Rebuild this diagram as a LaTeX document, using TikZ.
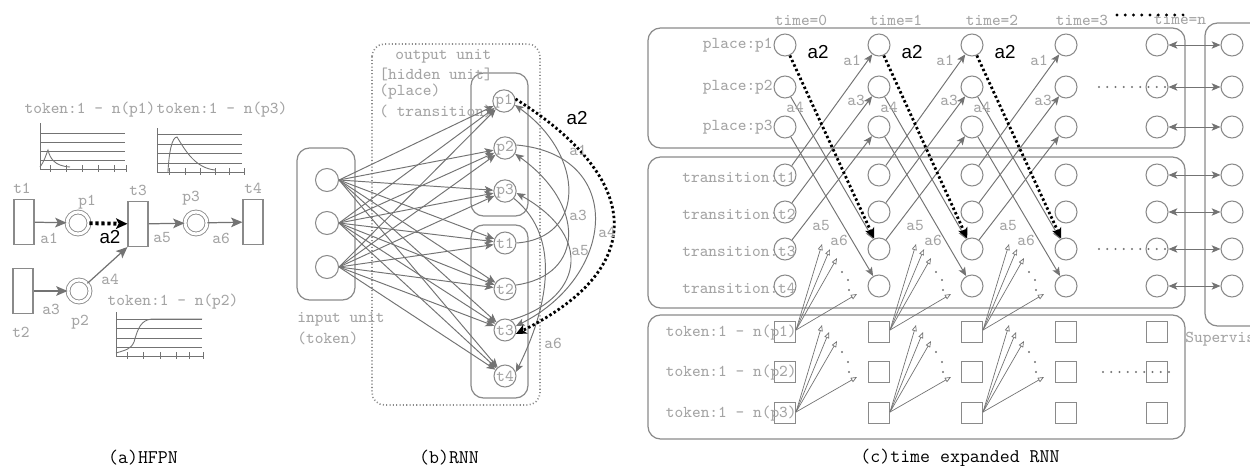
\documentclass[tikz,border=0pt]{standalone}
\usepackage{fontspec}
\setmainfont{Liberation Serif}
\newfontfamily\sansfont{Liberation Sans}
\usetikzlibrary{arrows.meta}

\definecolor{txtgrey}{HTML}{A4A4A4}
\definecolor{lngrey}{HTML}{737373}
\definecolor{bxgrey}{HTML}{8A8A8A}

\begin{document}
\begin{tikzpicture}[x=0.02cm,y=-0.02cm,
  lbl/.style={font=\ttfamily\fontsize{9.45}{10}\selectfont, text=txtgrey, inner sep=0pt},
  captxt/.style={font=\ttfamily\fontsize{11}{12}\selectfont, text=black, inner sep=0pt},
  blk/.style={font=\sansfont\fontsize{10.7}{12}\selectfont, text=black, inner sep=0pt},
  unit/.style={circle, draw=bxgrey, line width=0.6pt, minimum size=0.44cm, inner sep=0pt,
               font=\ttfamily\fontsize{9.45}{10}\selectfont, text=txtgrey},
  tok/.style={rectangle, draw=bxgrey, line width=0.6pt, minimum size=0.42cm, inner sep=0pt},
  trans/.style={rectangle, draw=bxgrey, line width=0.6pt, minimum width=0.4cm, minimum height=0.9cm, inner sep=0pt},
  place/.style={circle, draw=bxgrey, line width=0.5pt, double, double distance=1.7pt, minimum size=0.44cm, inner sep=0pt},
  grp/.style={draw=bxgrey, line width=0.7pt, rounded corners=0.25cm},
  arr/.style={draw=lngrey, line width=0.55pt, -{Stealth[length=5pt,width=4.2pt,inset=1.2pt]}},
  barr/.style={draw=lngrey, line width=0.55pt, {Stealth[length=5pt,width=4.2pt,inset=1.2pt]}-{Stealth[length=5pt,width=4.2pt,inset=1.2pt]}},
  bigarr/.style={draw=lngrey, line width=0.7pt, -{Stealth[length=6.5pt,width=5.5pt,inset=1.5pt]}},
  dotarr/.style={draw=black, line width=1.6pt, dash pattern=on 1.4pt off 1.4pt, -{Stealth[length=6pt,width=5.5pt,inset=1.5pt]}},
  bigdot/.style={draw=black, line width=2.2pt, dash pattern=on 1.8pt off 1.6pt, -{Stealth[length=6.5pt,width=6pt,inset=1.5pt]}},
  fan/.style={draw=lngrey, line width=0.4pt, -{Triangle[open,length=3.5pt,width=2.8pt]}},
  axis/.style={draw=lngrey, line width=0.5pt},
  rowdots/.style={draw=#1, line width=1.3pt, dash pattern=on 0pt off 4.7pt, line cap=round},
  rowdots/.default=lngrey
]
\useasboundingbox (0,0) rectangle (1250,466);
\clip (0,0) rectangle (1250,466);

% ================= (a) HFPN =================
% token curves
\node[lbl] at (90,110) {token:1 - n(p1)};
\node[lbl] at (222,110) {token:1 - n(p3)};
\node[lbl] at (173,302) {token:1 - n(p2)};

% p1 chart
\draw[axis] (40,123) -- (40,169) -- (127,169);
\foreach \y in {133,142,151,160} \draw[axis] (40,\y) -- (125,\y);
\foreach \x in {50,66,82,98,114,126} \draw[axis] (\x,165) -- (\x,172);
\draw[axis] (40,167) .. controls (44,162) and (46,155) .. (48,150)
  .. controls (50,158) and (54,166) .. (70,167);

% p3 chart
\draw[axis] (157,128) -- (157,172) -- (244,172);
\foreach \y in {134,144,153,163} \draw[axis] (157,\y) -- (242,\y);
\foreach \x in {169,185,200,215,229,244} \draw[axis] (\x,168) -- (\x,175);
\draw[axis] (168,172) .. controls (169,152) and (172,137) .. (177,137)
  .. controls (185,150) and (195,168) .. (215,170);

% p2 chart
\draw[axis] (116,312) -- (116,356) -- (203,356);
\foreach \y in {319,328,338,347} \draw[axis] (116,\y) -- (202,\y);
\foreach \x in {127,143,160,176,189,203} \draw[axis] (\x,352) -- (\x,359);
\draw[axis] (116,353) .. controls (126,350) and (131,349) .. (134,342)
  .. controls (138,328) and (141,320) .. (152,319) -- (202,319);

% net
\node[trans] (t1) at (24,222) {};
\node[trans] (t2) at (23,291) {};
\node[trans] (t3) at (138,224) {};
\node[trans] (t4) at (253,222) {};
\node[place] (p1) at (78,223) {};
\node[place] (p2) at (79,291) {};
\node[place] (p3) at (196,223) {};
\node[lbl] at (22,188) {t1};
\node[lbl] at (21,332) {t2};
\node[lbl] at (138,190) {t3};
\node[lbl] at (253,188) {t4};
\node[lbl] at (87,202) {p1};
\node[lbl] at (80,322) {p2};
\node[lbl] at (191,198) {p3};

\draw[bigarr] (t1) -- (p1);
\draw[bigarr] (t2) -- (p2);
\draw[bigarr] (t3) -- (p3);
\draw[bigarr] (p3) -- (t4);
\draw[bigarr] (p2) -- (t3.south west);
\draw[bigdot] (p1) -- (t3);
\node[lbl] at (49,238) {a1};
\node[blk] at (110,237) {a2};
\node[lbl] at (51,309) {a3};
\node[lbl] at (110,279) {a4};
\node[lbl] at (162,238) {a5};
\node[lbl] at (221,238) {a6};

\node[captxt] at (143,458) {(a)HFPN};

% ================= (b) RNN =================
\draw[grp] (297,148) rectangle (355,300);
\draw[draw=bxgrey, line width=0.9pt, dash pattern=on 0.6pt off 1.3pt, rounded corners=0.25cm] (372,44) rectangle (540,405);
\draw[grp] (471,73) rectangle (528,216);
\draw[grp] (471,225) rectangle (528,398);

\node[lbl, anchor=west] at (297,319) {input unit};
\node[lbl, anchor=west] at (297,338) {(token)};
\node[lbl, anchor=west] at (395,56) {output unit};
\node[lbl, anchor=west] at (379,74) {[hidden unit]};
\node[lbl, anchor=west] at (379,92) {(place)};
\node[lbl, anchor=west] at (379,111) {( transition)};

\node[unit, minimum size=0.46cm] (in1) at (327,180) {};
\node[unit, minimum size=0.46cm] (in2) at (327,223) {};
\node[unit, minimum size=0.46cm] (in3) at (327,267) {};

\node[unit] (bp1) at (504,101) {p1};
\node[unit] (bp2) at (505,148) {p2};
\node[unit] (bp3) at (505,191) {p3};
\node[unit] (bt1) at (505,243) {t1};
\node[unit] (bt2) at (505,289) {t2};
\node[unit] (bt3) at (505,330) {t3};
\node[unit] (bt4) at (505,376) {t4};

\foreach \s in {in1,in2,in3}
  \foreach \t in {bp1,bp2,bp3,bt1,bt2,bt3,bt4}
    \draw[arr] (\s.east) -- (\t);

% recurrent connections
\draw[arr] (bt1.east) .. controls +(70,-5) and +(70,50) .. (bp1.-20);
\draw[arr] (bt2.20) .. controls +(70,-10) and +(70,50) .. (bp2.-30);
\draw[arr] (bt3.60) .. controls +(70,-20) and +(80,45) .. (bp3.-10);
\draw[arr] (bp2.15) .. controls +(110,10) and +(100,-50) .. (bt3.20);
\draw[arr] (bp3.-40) .. controls +(50,40) and +(30,-60) .. (bt4.20);
\draw[dotarr] (bp1.10) .. controls +(120,75) and +(140,-70) .. (bt3.-20);

\node[lbl] at (578,150) {a1};
\node[blk] at (577,118) {a2};
\node[lbl] at (578,215) {a3};
\node[lbl] at (607,232) {a4};
\node[lbl] at (580,251) {a5};
\node[lbl] at (553,343) {a6};

\node[captxt] at (449,458) {(b)RNN};

% ================= (c) time expanded RNN =================
\draw[grp] (648,28) rectangle (1185,148);
\draw[grp] (648,157) rectangle (1185,308);
\draw[grp] (648,315) rectangle (1185,439);
\draw[grp] (1205,23) rectangle (1290,326);

\node[lbl] at (801,20) {time=0};
\node[lbl] at (896,20) {time=1};
\node[lbl] at (992,20) {time=2};
\node[lbl] at (1082,20) {time=3};
\node[lbl] at (1180,20) {time=n};
\draw[rowdots=black, line width=1.8pt] (1117,15) -- (1184,15);

\node[lbl, anchor=east] at (773,45) {place:p1};
\node[lbl, anchor=east] at (773,87) {place:p2};
\node[lbl, anchor=east] at (773,127) {place:p3};

% unit columns
\foreach \k/\x in {0/785,1/879,2/972,3/1066,4/1157} {
  \node[unit] (c\k p1) at (\x,45) {};
  \node[unit] (c\k p2) at (\x,87) {};
  \node[unit] (c\k p3) at (\x,127) {};
  \node[unit] (c\k t1) at (\x,175) {};
  \node[unit] (c\k t2) at (\x,212) {};
  \node[unit] (c\k t3) at (\x,249) {};
  \node[unit] (c\k t4) at (\x,286) {};
  \node[tok] (c\k k1) at (\x,332) {};
  \node[tok] (c\k k2) at (\x,372) {};
  \node[tok] (c\k k3) at (\x,413) {};
}

\node[lbl, anchor=east] at (796,177) {transition:t1};
\node[lbl, anchor=east] at (796,214) {transition:t2};
\node[lbl, anchor=east] at (796,251) {transition:t3};
\node[lbl, anchor=east] at (796,288) {transition:t4};
\node[lbl, anchor=east] at (797,333) {token:1 - n(p1)};
\node[lbl, anchor=east] at (797,373) {token:1 - n(p2)};
\node[lbl, anchor=east] at (797,414) {token:1 - n(p3)};

% connections between consecutive time steps
\foreach \k/\n/\x/\xn in {0/1/785/879,1/2/879/972,2/3/972/1066} {
  \draw[arr] (c\k t1) -- (c\n p1);
  \draw[arr] (c\k t2) -- (c\n p2);
  \draw[arr] (c\k t3) -- (c\n p3);
  \draw[arr] (c\k p2) -- (c\n t3);
  \draw[arr] (c\k p3) -- (c\n t4);
  \draw[dotarr] (c\k p1) -- (c\n t3);
  \node[blk] at (\x+33,52) {a2};
  \node[lbl] at (\x+10,107) {a4};
  \node[lbl] at (\xn-27,60) {a1};
  \node[lbl] at (\xn-23,100) {a3};
  \node[lbl] at (\x+36,226) {a5};
  \node[lbl] at (\x+54,240) {a6};
  % token fans
  \coordinate (f\k a) at (\x+37,244);
  \coordinate (f\k b) at (\x+45,249);
  \coordinate (f\k c) at (\x+52,258);
  \coordinate (f\k d) at (\x+72,294);
  \coordinate (g\k a) at (\x+37,325);
  \coordinate (g\k b) at (\x+44,332);
  \coordinate (g\k c) at (\x+52,341);
  \coordinate (g\k d) at (\x+72,377);
  \foreach \q in {a,b,c,d} {
    \draw[fan] ([yshift=0.04cm]c\k k1.east) -- (f\k\q);
    \draw[fan] ([yshift=0.02cm]c\k k3.east) -- (g\k\q);
  }
  \foreach \dx/\dy in {57/272,63/280,64/290,57/352,63/362,64/372}
    \fill[lngrey] (\x+\dx,\dy) circle (0.6pt);
}

% continuation dots
\draw[rowdots] (1099,87) -- (1172,87);
\draw[rowdots] (1099,249) -- (1172,249);
\draw[rowdots] (1103,372) -- (1170,372);

% supervisor units
\foreach \r/\y in {p1/45,p2/87,p3/127,t1/175,t2/212,t3/249,t4/286} {
  \node[unit] (sv\r) at (1232,\y) {};
  \draw[barr] (c4\r) -- (sv\r);
}
\node[lbl, anchor=west] at (1185,339) {Supervisor};

\node[captxt] at (960,458) {(c)time expanded RNN};
\end{tikzpicture}
\end{document}
